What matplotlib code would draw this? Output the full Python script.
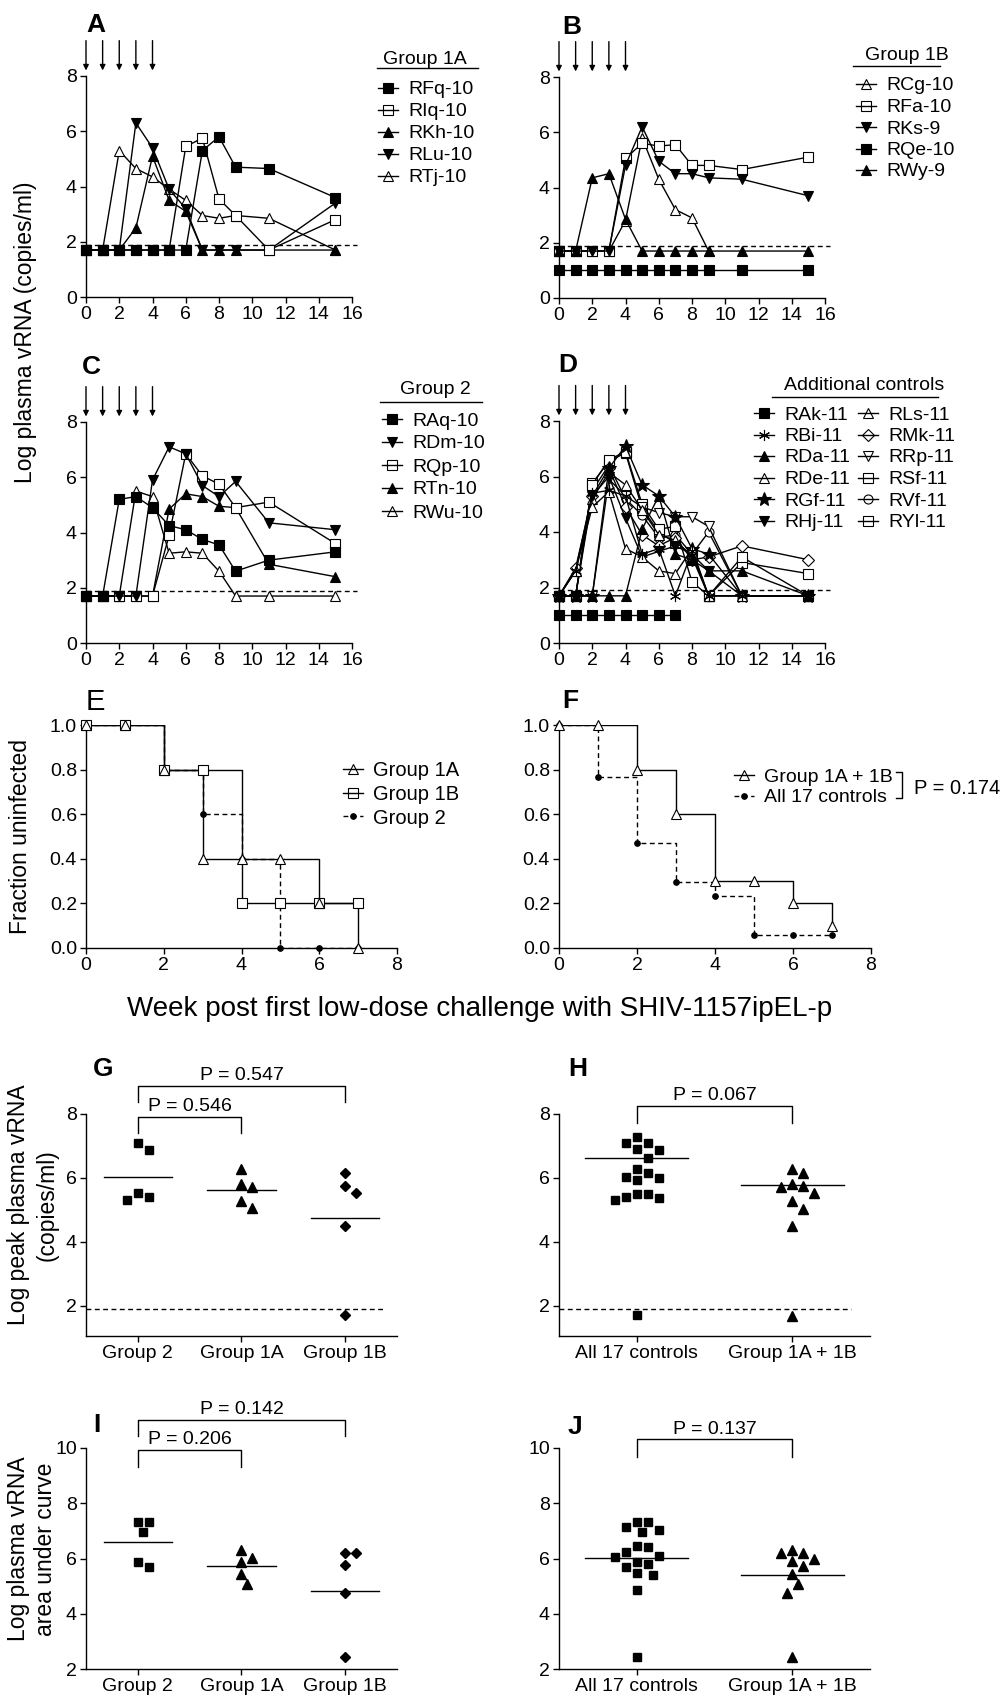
import numpy as np
import matplotlib
matplotlib.use('Agg')
import matplotlib.pyplot as plt

plt.rcParams['font.family'] = ['Liberation Sans', 'DejaVu Sans']
plt.rcParams['font.size'] = 14
plt.rcParams['axes.linewidth'] = 1.0
plt.rcParams['xtick.major.width'] = 1.0
plt.rcParams['ytick.major.width'] = 1.0
plt.rcParams['xtick.major.size'] = 4
plt.rcParams['ytick.major.size'] = 4
plt.rcParams['xtick.major.pad'] = 2.5
plt.rcParams['ytick.major.pad'] = 2.5

# ---------------- data ----------------
weeks = [0, 1, 2, 3, 4, 5, 6, 7, 8, 9, 11, 15]
challenge_weeks = [0, 1, 2, 3, 4]
detect_limit = 1.9

# Group 1A viral loads
rfq_10 = [1.7, 1.7, 1.7, 1.7, 1.7, 1.7, 1.7, 5.3, 5.8, 4.7, 4.65, 3.6]
riq_10 = [1.7, 1.7, 1.7, 1.7, 1.7, 1.7, 5.45, 5.75, 3.55, 2.95, 1.7, 2.8]
rkh_10 = [1.7, 1.7, 1.7, 2.5, 5.1, 3.5, 3.1, 1.7, 1.7, 1.7, 1.7, 1.7]
rlu_10 = [1.7, 1.7, 1.7, 6.3, 5.4, 3.9, 3.2, 1.7, 1.7, 1.7, 1.7, 3.4]
rtj_10 = [1.7, 1.7, 5.3, 4.65, 4.35, 3.9, 3.5, 2.95, 2.85, 2.95, 2.85, 1.7]

# Group 1B viral loads
rcg_10 = [1.7, 1.7, 1.7, 1.7, 2.8, 5.8, 4.3, 3.2, 2.9, 1.7, np.nan, np.nan]
rfa_10 = [1.7, 1.7, 1.7, 1.7, 5.05, 5.6, 5.5, 5.55, 4.8, 4.8, 4.65, 5.1]
rks_9 = [1.7, 1.7, 1.7, 1.7, 4.8, 6.2, 4.95, 4.5, 4.5, 4.35, 4.3, 3.7]
rqe_10 = [1.0, 1.0, 1.0, 1.0, 1.0, 1.0, 1.0, 1.0, 1.0, 1.0, 1.0, 1.0]
rwy_9 = [1.7, 1.7, 4.35, 4.5, 2.85, 1.7, 1.7, 1.7, 1.7, 1.7, 1.7, 1.7]

# Group 2 viral loads
raq_10 = [1.7, 1.7, 5.2, 5.3, 4.9, 4.25, 4.1, 3.75, 3.55, 2.6, 3.0, 3.3]
rdm_10 = [1.7, 1.7, 1.7, 1.7, 5.9, 7.1, 6.85, 5.7, 5.3, 5.85, 4.35, 4.1]
rqp_10 = [1.7, 1.7, 1.7, 1.7, 1.7, 3.9, 6.85, 6.05, 5.75, 4.9, 5.1, 3.6]
rtn_10 = [1.7, 1.7, 1.7, 1.7, 1.7, 4.85, 5.4, 5.3, 4.95, 4.9, 2.85, 2.4]
rwu_10 = [1.7, 1.7, 1.7, 5.5, 5.3, 3.25, 3.3, 3.25, 2.6, 1.7, 1.7, 1.7]

# additional controls
rak_11 = [1.0, 1.0, 1.0, 1.0, 1.0, 1.0, 1.0, 1.0, np.nan, np.nan, np.nan, np.nan]
rbi_11 = [1.7, 2.6, 5.4, 5.5, 5.3, 3.2, 3.4, 1.7, 3.3, 1.7, 1.7, 1.7]
rda_11 = [1.7, 1.7, 1.7, 1.7, 1.7, 4.1, 5.3, 3.2, 3.0, 2.6, 2.6, 1.7]
rde_11 = [1.7, 2.6, 4.9, 5.45, 3.4, 3.1, 2.6, 2.5, 3.4, 1.7, 1.7, 1.7]
rgf_11 = [1.7, 1.7, 1.7, 6.3, 7.1, 5.7, 5.3, 4.55, 3.4, 3.2, 1.7, 1.7]
rhj_11 = [1.7, 1.7, 5.3, 6.0, 4.5, 3.1, 3.3, 3.5, 3.2, 2.6, 1.7, 1.7]
rls_11 = [1.7, 2.6, 5.2, 6.15, 5.7, 4.8, 3.9, 3.7, 3.1, 1.7, 1.7, 1.7]
rmk_11 = [1.7, 2.7, 5.3, 6.3, 4.9, 3.9, 3.5, 3.8, 3.0, 3.1, 3.5, 3.0]
rrp_11 = [1.7, 1.7, 1.7, 5.9, 5.3, 4.9, 4.7, 4.55, 4.55, 4.2, 1.7, 1.7]
rsf_11 = [1.7, 1.7, 5.7, 6.6, 6.9, 5.0, 4.1, 4.2, 2.2, 1.7, 3.1, 1.7]
rvf_11 = [1.7, 1.7, 5.5, 6.4, 5.2, 4.6, 3.8, 3.9, 3.2, 4.0, 1.7, 1.7]
ryl_11 = [1.7, 1.7, 5.75, 6.55, 6.85, 4.85, 4.0, 3.6, 3.2, 1.7, 2.9, 2.5]

# fraction uninfected
km_weeks = [0, 1, 2, 3, 4, 5, 6, 7]
surv_1a = [1.0, 1.0, 0.8, 0.4, 0.4, 0.4, 0.2, 0.0]
surv_1b = [1.0, 1.0, 0.8, 0.8, 0.2, 0.2, 0.2, 0.2]
surv_g2 = [1.0, 1.0, 0.8, 0.6, 0.4, 0.0, 0.0, 0.0]
surv_1ab = [1.0, 1.0, 0.8, 0.6, 0.3, 0.3, 0.2, 0.1]
surv_ctrl = [1.0, 0.765, 0.471, 0.294, 0.235, 0.059, 0.059, 0.059]

# peak viral loads
peak_g2 = [7.08, 6.87, 5.52, 5.31, 5.41]
peak_1a = [6.28, 5.81, 5.70, 5.29, 5.07]
peak_1b = [6.16, 5.76, 5.54, 4.50, 1.70]
peak_lines_g = [6.04, 5.62, 4.73]
peak_ctrl = [7.27, 7.08, 7.10, 6.87, 6.89, 6.61, 6.29, 6.03, 5.93, 6.01, 6.16,
             5.48, 5.38, 5.30, 5.40, 5.51, 1.71]
peak_1ab = [6.27, 6.14, 5.80, 5.72, 5.75, 5.53, 5.28, 5.04, 4.49, 1.69]
peak_lines_h = [6.61, 5.77]

# area under curve
auc_g2 = [7.33, 7.33, 6.97, 5.86, 5.68]
auc_1a = [6.31, 6.03, 5.86, 5.43, 5.07]
auc_1b = [6.21, 6.21, 5.77, 4.74, 2.43]
auc_lines_i = [6.58, 5.73, 4.83]
auc_ctrl = [7.33, 7.33, 7.03, 7.15, 6.96, 6.45, 6.40, 6.23, 6.09, 6.07, 5.87,
            5.79, 5.68, 5.46, 5.40, 4.86, 2.43]
auc_1ab = [6.21, 6.31, 6.21, 6.0, 5.91, 5.73, 5.43, 5.07, 4.74, 2.43]
auc_lines_j = [6.03, 5.40]

cats_3 = ['Group 2', 'Group 1A', 'Group 1B']
cats_2 = ['All 17 controls', 'Group 1A + 1B']

# ---------------- marker styles ----------------
def sty(marker, filled, ms=7.0):
    return dict(marker=marker, filled=filled, ms=ms)

SQ_F, SQ_O = sty('s', True, 7), sty('s', False, 7)
UP_F, UP_O = sty('^', True, 7.5), sty('^', False, 7.5)
DN_F, DN_O = sty('v', True, 7.5), sty('v', False, 7.5)
AST = sty((6, 2, 0), True, 8)
STAR = sty('*', True, 10)
DIA_O = sty('D', False, 6)
CIR_O = sty('o', False, 6.5)

panel_a = [('RFq-10', rfq_10, SQ_F), ('RIq-10', riq_10, SQ_O), ('RKh-10', rkh_10, UP_F),
           ('RLu-10', rlu_10, DN_F), ('RTj-10', rtj_10, UP_O)]
panel_b = [('RCg-10', rcg_10, UP_O), ('RFa-10', rfa_10, SQ_O), ('RKs-9', rks_9, DN_F),
           ('RQe-10', rqe_10, SQ_F), ('RWy-9', rwy_9, UP_F)]
panel_c = [('RAq-10', raq_10, SQ_F), ('RDm-10', rdm_10, DN_F), ('RQp-10', rqp_10, SQ_O),
           ('RTn-10', rtn_10, UP_F), ('RWu-10', rwu_10, UP_O)]
panel_d = [('RAk-11', rak_11, SQ_F), ('RBi-11', rbi_11, AST), ('RDa-11', rda_11, UP_F),
           ('RDe-11', rde_11, UP_O), ('RGf-11', rgf_11, STAR), ('RHj-11', rhj_11, DN_F),
           ('RLs-11', rls_11, UP_O), ('RMk-11', rmk_11, DIA_O), ('RRp-11', rrp_11, DN_O),
           ('RSf-11', rsf_11, SQ_O), ('RVf-11', rvf_11, CIR_O), ('RYl-11', ryl_11, SQ_O)]

W, H = 1002, 1697
fig = plt.figure(figsize=(W / 100, H / 100), dpi=100)


def add_ax(left, top, right, bottom):
    ax = fig.add_axes([left / W, 1 - bottom / H, (right - left) / W, (bottom - top) / H])
    ax.spines['top'].set_visible(False)
    ax.spines['right'].set_visible(False)
    return ax


def draw_series(ax, x, y, st, lw=1.0, ls='-', zorder=2):
    face = 'k' if st['filled'] else 'white'
    ax.plot(x, y, color='k', lw=lw, ls=ls, marker=st['marker'], ms=st['ms'],
            mfc=face, mec='k', mew=0.8, zorder=zorder, clip_on=False)


def vl_panel(ax, series, first_on_top=True):
    order = list(reversed(series)) if first_on_top else list(series)
    for i, (name, vals, st) in enumerate(order):
        draw_series(ax, weeks, vals, st, zorder=2 + i * 0.01)
    ax.plot([0, 16.3], [detect_limit, detect_limit], color='k', lw=1.0,
            ls=(0, (3.5, 2.5)), clip_on=False, zorder=1)
    ax.set_xlim(0, 16)
    ax.set_ylim(0, 8)
    ax.set_xticks(range(0, 17, 2))
    ax.set_yticks(range(0, 9, 2))
    tr = ax.get_xaxis_transform()
    for wk in challenge_weeks:
        ax.annotate('', xy=(wk, 1.025), xycoords=tr, xytext=(wk, 1.16), textcoords=tr,
                    arrowprops=dict(arrowstyle='-|>', color='k', lw=1.0,
                                    mutation_scale=8, shrinkA=0, shrinkB=0))


ax_a = add_ax(86, 76, 352, 297)
vl_panel(ax_a, panel_a)
ax_b = add_ax(559, 77, 825, 298)
vl_panel(ax_b, panel_b, first_on_top=False)
ax_c = add_ax(86, 422, 352, 643)
vl_panel(ax_c, panel_c)
ax_d = add_ax(559, 421, 825, 643)
vl_panel(ax_d, panel_d)


# ---------------- survival panels ----------------
def km(ax, y, st, ls):
    ax.step(km_weeks, y, where='post', color='k', lw=1.0, ls=ls, zorder=2)
    face = 'k' if st['filled'] else 'white'
    ax.plot(km_weeks, y, ls='none', marker=st['marker'], ms=st['ms'], mfc=face,
            mec='k', mew=0.8, clip_on=False, zorder=3)


def km_axes(ax):
    ax.set_xlim(0, 8)
    ax.set_ylim(0, 1.0)
    ax.set_xticks(range(0, 9, 2))
    ax.set_yticks(np.arange(0, 1.01, 0.2))
    ax.set_yticklabels(['%.1f' % v for v in np.arange(0, 1.01, 0.2)])


KM_TRI = sty('^', False, 7)
KM_SQ = sty('s', False, 6.5)
KM_DOT = sty('o', True, 4)
DASH = (0, (3.5, 2.5))

ax_e = add_ax(86, 725, 397, 948)
km(ax_e, surv_g2, KM_DOT, DASH)
km(ax_e, surv_1b, KM_SQ, '-')
km(ax_e, surv_1a, KM_TRI, '-')
km_axes(ax_e)

ax_f = add_ax(559, 725, 871, 948)
km(ax_f, surv_ctrl, KM_DOT, DASH)
km(ax_f, surv_1ab, KM_TRI, '-')
km_axes(ax_f)


# ---------------- dot plots ----------------
def swarm_x(ax, xc, vals, step_px=11.0, min_px=11.0):
    vals = np.asarray(vals, dtype=float)
    pts = ax.transData.transform(np.column_stack([np.full(len(vals), xc), vals]))
    cands = [0.0]
    for k in range(1, 14):
        cands += [k * step_px / 2, -k * step_px / 2]
    placed, offs = [], np.zeros(len(vals))
    for i in np.argsort(-vals):
        yy = pts[i, 1]
        for c in cands:
            if all((c - px) ** 2 + (yy - py) ** 2 >= min_px ** 2 for px, py in placed):
                break
        placed.append((c, yy))
        offs[i] = c
    inv = ax.transData.inverted()
    return inv.transform(np.column_stack([pts[:, 0] + offs, pts[:, 1]]))[:, 0]


def dot_panel(ax, groups, markers, lines, cats, ylim, yticks, dashed):
    n = len(cats)
    ax.set_xlim(-0.5, n - 0.5)
    ax.set_ylim(*ylim)
    ax.set_xticks(range(n))
    ax.set_xticklabels(cats)
    ax.set_yticks(yticks)
    for i, (vals, mk, mline) in enumerate(zip(groups, markers, lines)):
        xs = swarm_x(ax, i, vals)
        ax.plot(xs, vals, ls='none', marker=mk[0], ms=mk[1], color='k', clip_on=False)
        ax.plot([i - 0.33, i + 0.33], [mline, mline], color='k', lw=1.0)
    if dashed:
        ax.plot([-0.5, n - 0.62], [detect_limit, detect_limit], color='k', lw=1.0,
                ls=(0, (3.5, 2.5)), zorder=1)


def bracket(ax, x0, x1, ytop, yleg, label):
    ax.plot([x0, x0, x1, x1], [yleg, ytop, ytop, yleg], color='k', lw=1.0, clip_on=False)
    ax.annotate(label, xy=((x0 + x1) / 2, ytop), xytext=(0, 1), textcoords='offset points',
                ha='center', va='bottom', fontsize=14, annotation_clip=False)


MK_SQ, MK_TRI, MK_DIA = ('s', 5.6), ('^', 6.5), ('D', 5.5)

ax_g = add_ax(86, 1114, 397, 1336)
dot_panel(ax_g, [peak_g2, peak_1a, peak_1b], [MK_SQ, MK_TRI, MK_DIA], peak_lines_g,
          cats_3, (1.05, 8), [2, 4, 6, 8], True)
bracket(ax_g, 0, 1, 7.92, 7.4, 'P = 0.546')
bracket(ax_g, 0, 2, 8.89, 8.37, 'P = 0.547')

ax_h = add_ax(559, 1114, 870, 1336)
dot_panel(ax_h, [peak_ctrl, peak_1ab], [MK_SQ, MK_TRI], peak_lines_h,
          cats_2, (1.05, 8), [2, 4, 6, 8], True)
bracket(ax_h, 0, 1, 8.26, 7.73, 'P = 0.067')

ax_i = add_ax(86, 1448, 397, 1669)
dot_panel(ax_i, [auc_g2, auc_1a, auc_1b], [MK_SQ, MK_TRI, MK_DIA], auc_lines_i,
          cats_3, (2, 10), [2, 4, 6, 8, 10], False)
bracket(ax_i, 0, 1, 9.94, 9.31, 'P = 0.206')
bracket(ax_i, 0, 2, 11.02, 10.42, 'P = 0.142')

ax_j = add_ax(559, 1448, 870, 1669)
dot_panel(ax_j, [auc_ctrl, auc_1ab], [MK_SQ, MK_TRI], auc_lines_j,
          cats_2, (2, 10), [2, 4, 6, 8, 10], False)
bracket(ax_j, 0, 1, 10.31, 9.68, 'P = 0.137')

# ---------------- overlay: letters, legends, labels ----------------
ov = fig.add_axes([0, 0, 1, 1])
ov.set_xlim(0, W)
ov.set_ylim(H, 0)
ov.axis('off')

for letter, x, y, weight, size in [('A', 86, 22, 'bold', 19), ('B', 562, 25, 'bold', 19),
                                   ('C', 82, 365, 'bold', 19), ('D', 558, 362, 'bold', 19),
                                   ('E', 86, 699, 'normal', 21), ('F', 562, 698, 'bold', 19),
                                   ('G', 93, 1067, 'bold', 19), ('H', 568, 1067, 'bold', 19),
                                   ('I', 93, 1422, 'bold', 19), ('J', 568, 1424, 'bold', 19)]:
    ov.text(x, y, letter, fontsize=size, fontweight=weight, ha='left', va='center_baseline')


def legend_entry(x, y, label, st, ls='-', fs=14):
    ov.plot([x - 10, x + 10], [y, y], color='k', lw=1.0, ls=ls)
    face = 'k' if st['filled'] else 'none'
    ov.plot([x], [y], ls='none', marker=st['marker'], ms=st['ms'], mfc=face, mec='k', mew=0.8)
    ov.text(x + 20, y, label, fontsize=fs, ha='left', va='center_baseline')


def group_legend(title, tx, ty, line_x0, line_x1, line_y, columns):
    ov.text(tx, ty, title, fontsize=14, ha='center', va='center_baseline')
    ov.plot([line_x0, line_x1], [line_y, line_y], color='k', lw=1.0)
    for mx, rows in columns:
        for (name, vals, st), ry in rows:
            legend_entry(mx, ry, name, st)


group_legend('Group 1A', 425, 57, 377, 478, 68,
             [(388, list(zip(panel_a, [88, 110, 132, 154, 176])))])
group_legend('Group 1B', 907, 53, 853, 940, 66,
             [(866, list(zip(panel_b, [84, 105.5, 127, 148.5, 170])))])
group_legend('Group 2', 435, 388, 380, 482, 402,
             [(392, list(zip(panel_c, [419, 442, 465, 488, 511])))])
d_rows = [413, 434.5, 456, 477.5, 499, 520.5]
group_legend('Additional controls', 864, 383, 772, 938, 397,
             [(764, list(zip(panel_d[:6], d_rows))), (868, list(zip(panel_d[6:], d_rows)))])

legend_entry(353, 769, 'Group 1A', KM_TRI, fs=14.5)
legend_entry(353, 793, 'Group 1B', KM_SQ, fs=14.5)
legend_entry(353, 816, 'Group 2', KM_DOT, ls=DASH, fs=14.5)

legend_entry(744, 775, 'Group 1A + 1B', KM_TRI, fs=14)
legend_entry(744, 796, 'All 17 controls', KM_DOT, ls=DASH, fs=14)
ov.plot([896, 902, 902, 896], [772, 772, 798, 798], color='k', lw=1.0)
ov.text(914, 786, 'P = 0.174', fontsize=14.5, ha='left', va='center_baseline')

ov.text(480, 1006, 'Week post first low-dose challenge with SHIV-1157ipEL-p',
        fontsize=20, ha='center', va='center_baseline')

ov.text(26, 332, 'Log plasma vRNA (copies/ml)', fontsize=16.5, rotation=90,
        ha='center', va='center')
ov.text(21, 836, 'Fraction uninfected', fontsize=16.5, rotation=90, ha='center', va='center')
ov.text(19, 1205, 'Log peak plasma vRNA', fontsize=16.5, rotation=90, ha='center', va='center')
ov.text(47, 1205, '(copies/ml)', fontsize=16.5, rotation=90, ha='center', va='center')
ov.text(19, 1549, 'Log plasma vRNA', fontsize=16.5, rotation=90, ha='center', va='center')
ov.text(46, 1549, 'area under curve', fontsize=16.5, rotation=90, ha='center', va='center')

fig.savefig('out.png', dpi=100)
